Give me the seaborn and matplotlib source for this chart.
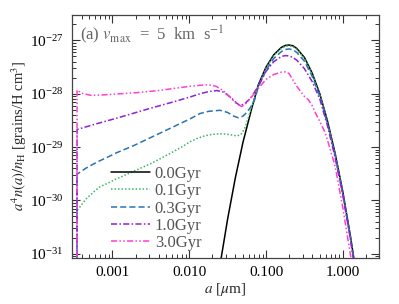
import numpy as np
import pandas as pd
import matplotlib
matplotlib.use("Agg")
import matplotlib.pyplot as plt
import matplotlib.ticker as mticker
import seaborn as sns

# log10(a / um) and log10(a^4 n(a)/n_H)
# the first point of each aged curve drops below the axis (a_min cut-off)
loga_00 = [-1.6, -1.5, -1.4, -1.3, -1.2, -1.1, -1.0, -0.9, -0.8, -0.75, -0.7,
           -0.65, -0.6, -0.5, -0.4, -0.3, -0.2, -0.1, 0.0, 0.1, 0.2]
logn_00 = [-31.22, -30.35, -29.58, -28.91, -28.35, -27.83, -27.50, -27.27, -27.13,
           -27.095, -27.086, -27.10, -27.15, -27.32, -27.61, -28.00, -28.51, -29.12,
           -29.84, -30.68, -31.62]

loga_01 = [-3.462, -3.46, -3.40, -3.342, -3.25, -3.169, -3.05, -2.952, -2.734, -2.5,
           -2.38, -2.25, -2.1, -1.988, -1.9, -1.8, -1.7, -1.6, -1.5, -1.42, -1.38,
           -1.33, -1.28, -1.23, -1.18, -1.15, -1.1, -1.0, -0.9, -0.8, -0.75, -0.7,
           -0.65, -0.6, -0.5, -0.4, -0.3, -0.2, -0.1, 0.0, 0.1, 0.2]
logn_01 = [-33.0, -30.19, -30.08, -29.97, -29.85, -29.75, -29.67, -29.60, -29.46, -29.31,
           -29.22, -29.12, -29.00, -28.90, -28.84, -28.79, -28.76, -28.75, -28.76, -28.78,
           -28.79, -28.77, -28.66, -28.45, -28.22, -28.10, -27.85, -27.52, -27.29, -27.15,
           -27.11, -27.10, -27.115, -27.165, -27.34, -27.63, -28.02, -28.53, -29.14,
           -29.86, -30.70, -31.64]

loga_03 = [-3.462, -3.46, -3.35, -3.25, -3.169, -3.05, -2.952, -2.734, -2.5, -2.25,
           -1.988, -1.858, -1.75, -1.6, -1.5, -1.42, -1.36, -1.3, -1.25, -1.2, -1.15,
           -1.1, -1.0, -0.9, -0.8, -0.75, -0.7, -0.65, -0.6, -0.5, -0.4, -0.3, -0.2,
           -0.1, 0.0, 0.1, 0.2]
logn_03 = [-33.0, -29.51, -29.40, -29.32, -29.26, -29.18, -29.11, -28.98, -28.82, -28.65,
           -28.47, -28.37, -28.33, -28.31, -28.35, -28.42, -28.45, -28.42, -28.35, -28.25,
           -28.12, -27.87, -27.56, -27.34, -27.21, -27.17, -27.16, -27.175, -27.225,
           -27.39, -27.67, -28.05, -28.56, -29.16, -29.88, -30.72, -31.66]

loga_10 = [-3.462, -3.46, -3.2, -2.95, -2.69, -2.45, -2.2, -1.988, -1.858, -1.75, -1.64,
           -1.55, -1.45, -1.38, -1.337, -1.28, -1.2, -1.15, -1.1, -1.0, -0.9, -0.8,
           -0.75, -0.7, -0.65, -0.6, -0.5, -0.4, -0.3, -0.2, -0.1, 0.0, 0.1, 0.2]
logn_10 = [-33.0, -28.67, -28.56, -28.46, -28.35, -28.25, -28.15, -28.06, -28.00, -27.96,
           -27.94, -27.97, -28.08, -28.18, -28.22, -28.19, -28.08, -27.97, -27.85, -27.58,
           -27.40, -27.30, -27.285, -27.29, -27.32, -27.37, -27.53, -27.77, -28.10, -28.60,
           -29.20, -29.90, -30.74, -31.70]

loga_30 = [-3.462, -3.46, -3.40, -3.28, -3.1, -2.9, -2.69, -2.4, -2.2, -1.988, -1.85,
           -1.75, -1.65, -1.55, -1.45, -1.38, -1.315, -1.25, -1.2, -1.15, -1.1, -1.0,
           -0.9, -0.8, -0.75, -0.7, -0.65, -0.6, -0.5, -0.45, -0.4, -0.36, -0.3, -0.23,
           -0.2, -0.1, 0.0, 0.1, 0.2]
logn_30 = [-33.0, -27.93, -27.99, -28.03, -28.02, -28.00, -27.98, -27.94, -27.90, -27.86,
           -27.84, -27.83, -27.86, -27.95, -28.09, -28.19, -28.24, -28.17, -28.08, -27.99,
           -27.90, -27.73, -27.64, -27.595, -27.59, -27.62, -27.74, -27.86, -28.05, -28.11,
           -28.22, -28.35, -28.52, -28.73, -28.87, -29.36, -30.14, -31.03, -32.00]

labels = ["0.0Gyr", "0.1Gyr", "0.3Gyr", "1.0Gyr", "3.0Gyr"]
colors = ["black", "#3cb562", "#2a73b0", "#8a22d8", "#ff3fcf"]
styles = ["-", (0, (1, 1.3)), (0, (4, 2)), (0, (4, 1.5, 1, 1.5)),
          (0, (4, 1.5, 1, 1.5, 1, 1.5))]
x_ticks = [0.001, 0.01, 0.1, 1.0]
y_ticks = [1e-31, 1e-30, 1e-29, 1e-28, 1e-27]

sns.set_style("ticks")
plt.rcParams["font.family"] = ["Liberation Serif", "DejaVu Serif"]
plt.rcParams["mathtext.fontset"] = "stix"
plt.rcParams["xtick.direction"] = "in"
plt.rcParams["ytick.direction"] = "in"
plt.rcParams["xtick.top"] = True
plt.rcParams["ytick.right"] = True

fig = plt.figure(figsize=(3.99, 3.04), dpi=100)
ax = fig.add_axes([0.181, 0.152, 0.769, 0.800])

series = [(loga_00, logn_00), (loga_01, logn_01), (loga_03, logn_03),
          (loga_10, logn_10), (loga_30, logn_30)]
for (la, ln), lab, col, ls in zip(series, labels, colors, styles):
    df = pd.DataFrame({"a": 10.0 ** np.array(la), "n": 10.0 ** np.array(ln)})
    sns.lineplot(data=df, x="a", y="n", ax=ax, color=col, linestyle=ls,
                 linewidth=1.1, label=lab, sort=False, estimator=None)

ax.set_xscale("log")
ax.set_yscale("log")
ax.set_xlim(3.0e-4, 2.96)
ax.set_ylim(8.4e-32, 3.05e-27)

ax.set_xticks(x_ticks)
ax.set_yticks(y_ticks)
ax.xaxis.set_major_formatter(mticker.FuncFormatter(lambda v, p: "%.3f" % v))
ax.yaxis.set_major_formatter(mticker.LogFormatterSciNotation())
ax.xaxis.set_minor_locator(mticker.LogLocator(base=10, subs=np.arange(2, 10)))
ax.yaxis.set_minor_locator(mticker.LogLocator(base=10, subs=np.arange(2, 10), numticks=10))
ax.xaxis.set_minor_formatter(mticker.NullFormatter())
ax.yaxis.set_minor_formatter(mticker.NullFormatter())

ax.tick_params(which="major", length=6, width=0.8, colors="#333333", labelsize=11,
               labelcolor="black", pad=6)
ax.tick_params(which="minor", length=3, width=0.7, colors="#333333")
for s in ax.spines.values():
    s.set_color("#444444")
    s.set_linewidth(0.9)

ax.set_xlabel(r"$a$ [$\mu$m]", fontsize=11, labelpad=1)
ax.set_ylabel(r"$a^4 n(a)/n_{\rm H}$ [grains/H cm$^3$]", fontsize=10.5, labelpad=1)

ax.text(0.025, 0.965, r"(a) $v_{\rm max}$  =  5  km  s$^{-1}$", transform=ax.transAxes,
        ha="left", va="top", fontsize=12, color="#666666")

leg = ax.legend(loc="upper left", bbox_to_anchor=(0.128, 0.378), frameon=False,
                fontsize=12, handlelength=2.3, handletextpad=0.3, labelspacing=0.08,
                borderpad=0, borderaxespad=0)
for t in leg.get_texts():
    t.set_color("#555555")

fig.savefig("out.png", dpi=100)
